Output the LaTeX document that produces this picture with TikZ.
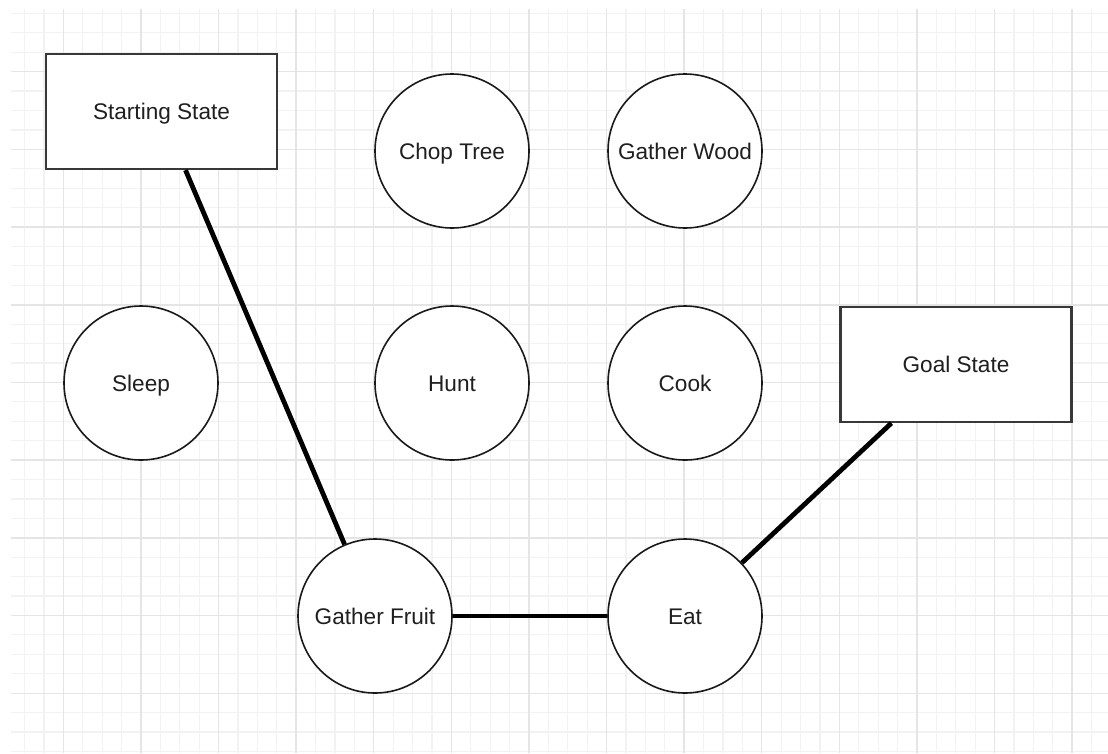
\documentclass[tikz,border=0pt]{standalone}
\usepackage{fontspec}
\setmainfont{Liberation Sans}
\begin{document}
\begin{tikzpicture}[x=1pt,y=-1pt,
  minorgrid/.style={draw=gray!10, line width=1.2pt},
  majorgrid/.style={draw=gray!20, line width=1.5pt},
  labeltext/.style={font=\fontsize{22.6}{27}\selectfont, text=black!88,
    text height=16.2pt, text depth=0pt},
  statebox/.style={labeltext, rectangle, draw=black!78, line width=2.2pt, fill=white,
    minimum width=231pt, minimum height=115pt, inner sep=0pt},
  action/.style={labeltext, circle, draw=black!90, line width=1.6pt, fill=white,
    minimum size=154pt, inner sep=0pt},
  link/.style={line width=4.8pt, black}]
\useasboundingbox (0,0) rectangle (1108,753);
\fill[white] (0,0) rectangle (1108,753);

% background grid
\begin{scope}
  \clip (11,9) rectangle (1108,753);
  \foreach \i in {0,...,56} {
    \draw[minorgrid] ({24.5+19.4*\i},9) -- ++(0,744);
  }
  \foreach \i in {0,...,38} {
    \draw[minorgrid] (11,{13.4+19.42*\i}) -- ++(1097,0);
  }
  \foreach \i in {0,...,13} {
    \draw[majorgrid] ({63.3+77.6*\i},9) -- ++(0,744);
  }
  \foreach \i in {0,...,9} {
    \draw[majorgrid] (11,{71.7+77.7*\i}) -- ++(1097,0);
  }
\end{scope}

% states
\node[statebox] (start) at (161.5,111.5) {Starting State};
\node[statebox] (goal) at (956,364.5) {Goal State};

% actions
\node[action] (chop)  at (452,151) {Chop Tree};
\node[action] (wood)  at (685,151) {Gather Wood};
\node[action] (sleep) at (141,383) {Sleep};
\node[action] (hunt)  at (452,383) {Hunt};
\node[action] (cook)  at (685,383) {Cook};
\node[action] (fruit) at (375,616) {Gather Fruit};
\node[action] (eat)   at (685,616) {Eat};

% plan
\draw[link] ([xshift=24pt]start.south) -- (fruit);
\draw[link] (fruit) -- (eat);
\draw[link] (eat) -- ([xshift=52pt]goal.south west);
\end{tikzpicture}
\end{document}
